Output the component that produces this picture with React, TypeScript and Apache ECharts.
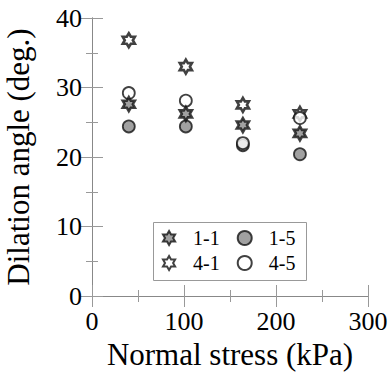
import React, { useEffect, useRef } from "react";
import * as echarts from "echarts";

// Normal stress (kPa) for each test stage
const normalStress = [40, 102, 164, 226];
// Dilation angle (deg.) per case
const case11 = [27.6, 26.2, 24.6, 23.4];
const case15 = [24.4, 24.4, 21.7, 20.4];
const case41 = [36.8, 33.0, 27.5, 26.2];
const case45 = [29.2, 28.1, 22.0, 25.6];
const legendRow1 = ["1-1", "1-5"];
const legendRow2 = ["4-1", "4-5"];

const FONT = "Liberation Serif, serif";
const STAR =
  "path://M50 0L64.43 25L93.3 25L78.87 50L93.3 75L64.43 75L50 100L35.57 75L6.7 75L21.13 50L6.7 25L35.57 25Z";
const GRAY = "#8a8a8a";
const EDGE = "#111";

const pairs = (vals: number[]) => normalStress.map((x, i) => [x, vals[i]]);

export default function App() {
  const ref = useRef<HTMLDivElement>(null);
  useEffect(() => {
    if (!ref.current) return;
    const chart = echarts.init(ref.current, null, { renderer: "svg" });
    const axisLine = { show: true, lineStyle: { color: "#888", width: 1 } };
    const tickStyle = { color: "#999", width: 1 };
    const tickLabel = { fontSize: 26, color: "#000", fontFamily: FONT };
    const baseX = {
      type: "value",
      min: 0,
      max: 300,
      interval: 100,
      axisLine,
      axisTick: { show: true, inside: true, length: 11, lineStyle: tickStyle },
      minorTick: { show: true, splitNumber: 2, length: 6, lineStyle: tickStyle },
      splitLine: { show: false },
      minorSplitLine: { show: false },
    };
    const baseY = {
      type: "value",
      min: 0,
      max: 40,
      interval: 10,
      axisLine,
      axisTick: { show: true, inside: true, length: 11, lineStyle: tickStyle },
      minorTick: { show: true, splitNumber: 2, length: 6, lineStyle: tickStyle },
      splitLine: { show: false },
      minorSplitLine: { show: false },
    };
    const legendCommon = {
      orient: "horizontal",
      itemWidth: 14,
      itemHeight: 14,
      itemGap: 17,
      padding: 0,
      symbolKeepAspect: true,
      itemStyle: { borderWidth: 2 },
      textStyle: {
        fontSize: 20,
        lineHeight: 20,
        color: "#000",
        fontFamily: FONT,
        padding: [0, 0, 0, 12],
      },
      z: 6,
    };
    chart.setOption({
      animation: false,
      backgroundColor: "#fff",
      textStyle: { fontFamily: FONT },
      grid: {
        left: 92,
        top: 18,
        width: 276,
        height: 278,
        containLabel: false,
        outerBoundsMode: "none",
      },
      graphic: [
        {
          type: "rect",
          z: 5,
          shape: { x: 153.5, y: 222.5, width: 153, height: 58 },
          style: { fill: "#fff", stroke: "#999", lineWidth: 1 },
        },
      ],
      legend: [
        { ...legendCommon, data: legendRow1, left: 162, top: 228 },
        { ...legendCommon, data: legendRow2, left: 162, top: 253 },
      ],
      xAxis: [
        {
          ...baseX,
          position: "bottom",
          axisLabel: { ...tickLabel, margin: 12 },
          name: "Normal stress (kPa)",
          nameLocation: "middle",
          nameGap: 29,
          nameTextStyle: { fontSize: 31, color: "#000", fontFamily: FONT },
        },
        { ...baseX, position: "top", axisLabel: { show: false } },
      ],
      yAxis: [
        {
          ...baseY,
          position: "left",
          axisLabel: { ...tickLabel, margin: 10 },
          name: "Dilation angle (deg.)",
          nameLocation: "middle",
          nameGap: 58,
          nameTextStyle: { fontSize: 31, color: "#000", fontFamily: FONT },
        },
        { ...baseY, position: "right", axisLabel: { show: false } },
      ],
      series: [
        {
          name: "4-1",
          type: "scatter",
          data: pairs(case41),
          symbol: STAR,
          symbolSize: 14,
          symbolKeepAspect: true,
          itemStyle: { color: "#fff", borderColor: EDGE, borderWidth: 2.6 },
        },
        {
          name: "1-5",
          type: "scatter",
          data: pairs(case15),
          symbol: "circle",
          symbolSize: 12,
          itemStyle: { color: GRAY, borderColor: EDGE, borderWidth: 1.8 },
        },
        {
          name: "4-5",
          type: "scatter",
          data: pairs(case45),
          symbol: "circle",
          symbolSize: 12,
          itemStyle: { color: "#fff", borderColor: EDGE, borderWidth: 1.8 },
        },
        {
          name: "1-1",
          type: "scatter",
          data: pairs(case11),
          symbol: STAR,
          symbolSize: 14,
          symbolKeepAspect: true,
          itemStyle: { color: GRAY, borderColor: EDGE, borderWidth: 2.6 },
        },
      ],
    });
    return () => chart.dispose();
  }, []);
  return (
    <div
      ref={ref}
      style={{ position: "absolute", left: 0, top: 0, width: 391, height: 375 }}
    />
  );
}
